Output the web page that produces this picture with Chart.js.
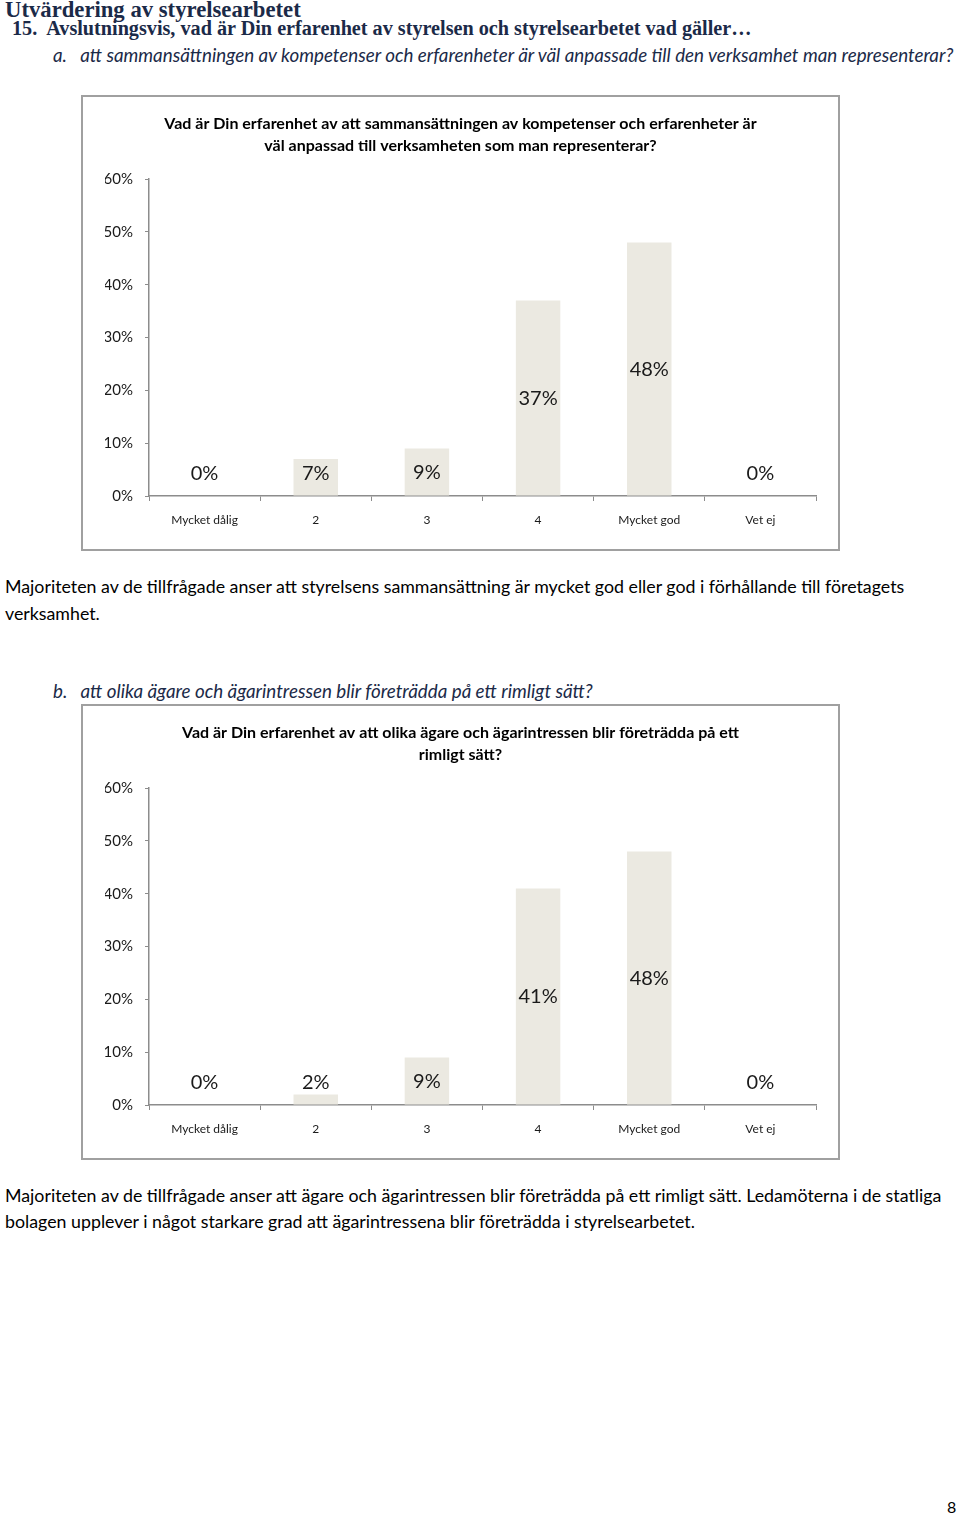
<!DOCTYPE html>
<html>
<head>
<meta charset="utf-8">
<script src="https://cdn.jsdelivr.net/npm/chart.js@4/dist/chart.umd.min.js"></script>
<style>
    body { margin: 0; width: 960px; height: 1517px; background: #fff; position: relative; font-family: Lato, "Liberation Sans", sans-serif; color: #000; }
    .t { position: absolute; white-space: nowrap; margin: 0; line-height: 24px; }
    .h1 { left: 5px; font-family: "Liberation Serif", serif; font-weight: bold; font-size: 22.7px; color: #1b2a48; }
    .h2 { left: 12px; font-family: "Liberation Serif", serif; font-weight: bold; font-size: 20.2px; color: #1b2a48; }
    .q { font-style: italic; font-size: 18.8px; color: #1b2a48; }
    .p { left: 5px; font-size: 17.8px; }
    .box { position: absolute; left: 81px; width: 755px; height: 452px; border: 2px solid #a0a0a0; }
    .box canvas { position: absolute; left: 0; top: 0; }
</style>
</head>
<body>
<div class="t h1" style="top:-2px">Utvärdering av styrelsearbetet</div>
<div class="t h2" style="top:16px">15.&nbsp; Avslutningsvis, vad är Din erfarenhet av styrelsen och styrelsearbetet vad gäller…</div>
<div class="t q" style="left:53px;top:43px">a.&nbsp;&nbsp; att sammansättningen av kompetenser och erfarenheter är väl anpassade till den verksamhet man representerar?</div>

<div class="box" style="top:95px"><canvas id="chartA" width="755" height="452"></canvas></div>

<div class="t p" style="top:574px">Majoriteten av de tillfrågade anser att styrelsens sammansättning är mycket god eller god i förhållande till företagets</div>
<div class="t p" style="top:601px">verksamhet.</div>

<div class="t q" style="left:53px;top:679px">b.&nbsp;&nbsp; att olika ägare och ägarintressen blir företrädda på ett rimligt sätt?</div>

<div class="box" style="top:704px"><canvas id="chartB" width="755" height="452"></canvas></div>

<div class="t p" style="top:1183px">Majoriteten av de tillfrågade anser att ägare och ägarintressen blir företrädda på ett rimligt sätt. Ledamöterna i de statliga</div>
<div class="t p" style="top:1209px">bolagen upplever i något starkare grad att ägarintressena blir företrädda i styrelsearbetet.</div>

<div class="t" style="left:947px;top:1495px;font-size:16px">8</div>

<script>
const categories = ["Mycket dålig", "2", "3", "4", "Mycket god", "Vet ej"];
const valuesA = [0, 7, 9, 37, 48, 0];
const valuesB = [0, 2, 9, 41, 48, 0];
const titleA = ["Vad är Din erfarenhet av att sammansättningen av kompetenser och erfarenheter är", "väl anpassad till verksamheten som man representerar?"];
const titleB = ["Vad är Din erfarenhet av att olika ägare och ägarintressen blir företrädda på ett", "rimligt sätt?"];

// labels in the middle of the bar, but never lower than just above the axis
const barLabels = {
    id: 'barLabels',
    afterDatasetsDraw(chart) {
        const ctx = chart.ctx;
        const base = chart.scales.y.getPixelForValue(0);
        ctx.save();
        ctx.font = '20px Lato, sans-serif';
        ctx.fillStyle = '#1a1a1a';
        ctx.textAlign = 'center';
        ctx.textBaseline = 'middle';
        chart.getDatasetMeta(0).data.forEach((bar, i) => {
            const v = chart.data.datasets[0].data[i];
            let y = (bar.y + base) / 2;
            if (y > base - 22) y = base - 22;
            ctx.fillText(v + '%', bar.x, y);
        });
        ctx.restore();
    }
};

function createChart(id, title, values) {
    const ctx = document.getElementById(id).getContext('2d');
    return new Chart(ctx, {
        type: 'bar',
        data: {
            labels: categories,
            datasets: [{
                data: values,
                backgroundColor: '#ebe9e1',
                barPercentage: 0.4,
                categoryPercentage: 1
            }]
        },
        options: {
            responsive: false,
            animation: false,
            layout: { padding: { left: 22, right: 22, top: 0, bottom: 0 } },
            plugins: {
                legend: { display: false },
                tooltip: { enabled: false },
                title: {
                    display: true,
                    text: title,
                    color: '#000',
                    font: { family: 'Lato, sans-serif', size: 16, weight: 'bold', lineHeight: 1.375 },
                    padding: { top: 16, bottom: 22 }
                }
            },
            scales: {
                x: {
                    grid: { display: true, drawOnChartArea: false, offset: true, tickLength: 5, color: '#8c8c8c' },
                    border: { display: true, color: '#8c8c8c', width: 1.5 },
                    ticks: { color: '#1a1a1a', font: { family: 'Lato, sans-serif', size: 12 }, padding: 12, maxRotation: 0 },
                    afterFit: s => { s.height = 53; }
                },
                y: {
                    min: 0,
                    max: 60,
                    ticks: { stepSize: 10, color: '#1a1a1a', font: { family: 'Lato, sans-serif', size: 15 }, padding: 12, callback: v => v + '%' },
                    grid: { display: true, drawOnChartArea: false, tickLength: 4, color: '#8c8c8c' },
                    border: { display: true, color: '#8c8c8c', width: 1.5 },
                    afterFit: s => { s.width = 44; }
                }
            }
        },
        plugins: [barLabels]
    });
}

createChart('chartA', titleA, valuesA);
createChart('chartB', titleB, valuesB);
</script>
</body>
</html>
